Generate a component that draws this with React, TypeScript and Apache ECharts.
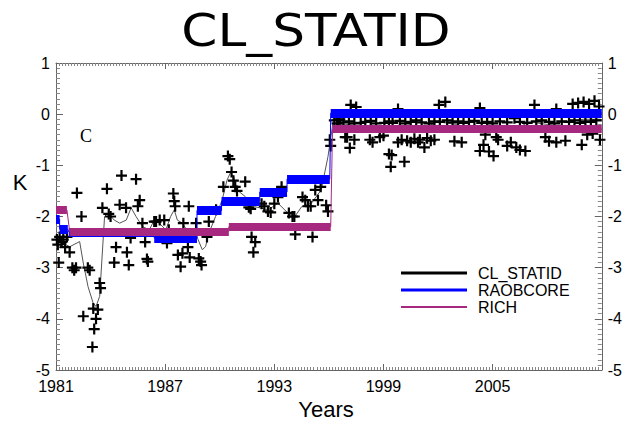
import React, { useEffect, useRef } from "react";
import * as echarts from "echarts";

const BASE_YEAR = 1981;
const X_TICK_LABELS = ["1981", "1987", "1993", "1999", "2005", ""];

// CL_STATID monthly anomalies (plus markers)
const CL_YEARS = [
  1981.05, 1981.1, 1981.15, 1981.2, 1981.3, 1981.4, 1981.5, 1981.6, 1981.75, 1981.9,
  1982.0, 1982.1, 1982.15, 1982.4, 1982.5, 1982.75, 1982.85, 1983.0, 1983.05, 1983.1,
  1983.2, 1983.3, 1983.4, 1983.45, 1983.55, 1983.8, 1983.9, 1984.0, 1984.2, 1984.3,
  1984.5, 1984.6, 1984.85, 1984.9, 1985.0, 1985.1, 1985.4, 1985.5, 1985.6, 1985.75,
  1985.9, 1986.0, 1986.05, 1986.4, 1986.5, 1986.7, 1986.95, 1987.1, 1987.2, 1987.45,
  1987.5, 1987.55, 1987.7, 1987.85, 1987.95, 1988.0, 1988.3, 1988.25, 1988.35, 1988.7,
  1988.85, 1988.95, 1989.0, 1989.3, 1989.4, 1989.8, 1990.2, 1990.45, 1990.55, 1990.65,
  1990.75, 1990.85, 1990.95, 1991.4, 1991.6, 1991.7, 1991.75, 1991.85, 1991.95, 1992.3,
  1992.45, 1992.65, 1992.8, 1993.0, 1993.2, 1993.4, 1993.8, 1994.0, 1994.1, 1994.15,
  1994.55, 1994.7, 1994.85, 1995.0, 1995.1, 1995.25, 1995.4, 1995.55, 1995.85, 1995.95,
  1996.05, 1996.1, 1996.3, 1996.45, 1996.6, 1996.9,
  1997.2, 1997.5, 2002.05, 2002.4, 2007.3, 2009.4, 2009.7, 2010.0, 2010.3, 2010.6, 2010.85, 1999.8, 2004.3, 2008.5,
  1996.5, 1996.8, 1997.1, 1997.4, 1997.75, 1998.0, 1998.3, 1998.6, 1999.05, 1999.3,
  1999.5, 1999.9, 2000.2, 2000.5, 2000.8, 2001.1, 2001.5, 2001.8, 2002.1, 2002.5,
  2002.8, 2003.1, 2003.4, 2003.7, 2004.0, 2004.4, 2004.7, 2005.0, 2005.4, 2005.8,
  2006.2, 2006.5, 2006.9, 2007.4, 2007.7, 2008.1, 2008.4, 2008.8, 2009.2, 2009.5,
  2009.8, 2010.1, 2010.4, 2010.7,
  1997.0, 1997.15, 1997.4, 1998.25, 1998.4, 1998.8, 1999.0, 1999.3, 1999.45, 1999.4,
  1999.8, 2000.0, 2000.15, 2000.3, 2000.5, 2000.7, 2000.9, 2001.0, 2001.25, 2001.4,
  2001.6, 2001.8, 2002.9, 2003.3, 2004.3, 2004.5, 2004.6, 2004.8, 2005.05, 2005.2,
  2005.3, 2005.8, 2006.0, 2006.3, 2006.5, 2006.8, 2007.9, 2008.1, 2008.5, 2009.0,
  2009.9, 2010.2, 2010.5, 2010.9,
];
const CL_VALUES = [
  -2.45, -2.55, -2.9, -2.4, -2.5, -2.45, -2.6, -2.4, -2.7, -3.0,
  -3.05, -3.0, -1.54, -2.0, -3.95, -3.0, -3.05, -4.55, -3.8, -4.2,
  -4.0, -3.82, -3.3, -3.4, -1.83, -1.46, -1.95, -2.0, -2.9, -2.6,
  -1.77, -1.2, -1.83, -2.7, -2.95, -2.42, -1.27, -1.8, -1.68, -2.13,
  -2.5, -2.83, -2.88, -2.1, -2.1, -2.07, -2.07, -2.52, -2.26, -1.55,
  -1.7, -1.8, -2.75, -2.98, -2.72, -2.13, -1.8, -2.6, -2.8, -2.13,
  -2.82, -2.88, -2.95, -2.4, -2.1, -1.87, -1.42, -0.82, -0.88, -1.13,
  -1.3, -1.42, -1.5, -1.32, -1.82, -1.85, -2.4, -2.7, -2.5, -1.75,
  -1.8, -1.9, -1.92, -1.75, -1.62, -1.42, -1.93, -2.0, -2.0, -2.35,
  -1.62, -1.68, -1.8, -1.8, -2.4, -1.48, -1.68, -1.42, -1.78, -1.9,
  -0.5, -0.62, -0.12, -0.18, -0.1, -0.45,
  0.18, 0.14, 0.18, 0.24, 0.18, 0.2, 0.22, 0.24, 0.2, 0.26, 0.15, 0.1, 0.12, 0.1,
  -0.11, -0.16, -0.14, -0.18, -0.17, -0.15, -0.13, -0.18, -0.17, -0.14,
  -0.17, -0.13, -0.18, -0.15, -0.12, -0.16, -0.18, -0.14, -0.15, -0.12,
  -0.16, -0.14, -0.17, -0.15, -0.13, -0.17, -0.15, -0.18, -0.14, -0.16,
  -0.08, -0.15, -0.17, -0.14, -0.12, -0.15, -0.18, -0.14, -0.15, -0.12,
  -0.17, -0.14, -0.15, -0.12,
  -0.45, -0.66, -0.5, -0.5, -0.55, -0.45, -0.42, -0.78, -0.8, -1.03,
  -0.55, -0.5, -0.93, -0.52, -0.55, -0.48, -0.55, -0.5, -0.65, -0.47,
  -0.52, -0.5, -0.53, -0.55, -0.72, -0.6, -0.4, -0.73, -0.82, -0.45,
  -0.5, -0.62, -0.55, -0.65, -0.7, -0.72, -0.45, -0.53, -0.55, -0.52,
  -0.6, -0.4, -0.38, -0.5,
];

// CL_STATID smoothed curve (thin grey line)
const SMOOTH_YEARS = [
  1981.04, 1981.76, 1982.3, 1982.5, 1982.76, 1983.04, 1983.2, 1983.4, 1983.58, 1983.67,
  1983.85, 1984.2, 1984.5, 1984.86, 1985.13, 1985.4, 1985.76, 1986.13, 1986.4, 1986.67,
  1987.04, 1987.3, 1987.5, 1987.67, 1987.95, 1988.3, 1988.67, 1989.04, 1989.22, 1989.4,
  1989.77, 1990.13, 1990.4, 1990.58, 1990.77, 1990.95, 1991.4, 1991.95, 1992.67, 1993.2,
  1993.77, 1994.13, 1994.5, 1995.04, 1995.58, 1995.95, 1996.22, 1997.0, 1998.0, 1999.0,
  2000.0, 2001.0, 2002.0, 2003.0, 2004.0, 2005.0, 2006.0, 2007.0, 2008.0, 2009.0,
  2010.0, 2010.95,
];
const SMOOTH_VALUES = [
  -2.46, -2.59, -2.49, -2.91, -3.37, -3.69, -3.76, -3.56, -2.52, -2.0,
  -1.93, -2.07, -2.13, -2.07, -1.83, -2.0, -2.2, -2.26, -2.07, -2.13,
  -2.26, -2.0, -1.87, -2.07, -2.13, -2.33, -2.33, -2.65, -2.59, -2.33,
  -2.0, -1.68, -1.29, -1.15, -1.22, -1.48, -1.61, -1.81, -1.87, -1.74,
  -1.94, -2.0, -1.81, -1.74, -1.48, -0.83, -0.18, -0.2, -0.25, -0.3,
  -0.35, -0.3, -0.15, -0.2, -0.3, -0.3, -0.35, -0.15, -0.2, -0.15,
  -0.1, -0.1,
];

// RAOBCORE step segments
const RAOB_START = [1981.0, 1981.2, 1981.7, 1986.4, 1988.75, 1990.1, 1992.2, 1993.7, 1996.1];
const RAOB_END = [1981.2, 1981.65, 1986.4, 1988.75, 1990.1, 1992.2, 1993.7, 1996.05, 2011.0];
const RAOB_VALUES = [-2.05, -2.25, -2.3, -2.42, -1.88, -1.7, -1.52, -1.27, 0.02];

// RICH step segments
const RICH_START = [1981.0, 1981.75, 1990.5, 1996.2];
const RICH_END = [1981.6, 1990.5, 1996.1, 2011.0];
const RICH_VALUES = [-1.87, -2.29, -2.2, -0.29];

const BLUE = "#0000ff";
const PURPLE = "#a6287f";
const PLUS = "path://M4,0L6,0L6,4L10,4L10,6L6,6L6,10L4,10L4,6L0,6L0,4L4,4Z";

const off = (y: number) => y - BASE_YEAR;

function segs(start: number[], end: number[], vals: number[]) {
  return start.map((s, i) => ({ coords: [[off(s), vals[i]], [off(end[i]), vals[i]]] }));
}
function connector(start: number[], end: number[], vals: number[]) {
  const out: number[][] = [];
  start.forEach((s, i) => {
    out.push([off(s), vals[i]]);
    out.push([off(end[i]), vals[i]]);
  });
  return out;
}

export default function App() {
  const ref = useRef<HTMLDivElement>(null);
  useEffect(() => {
    document.body.style.margin = "0";
    const chart = echarts.init(ref.current!, null, { renderer: "svg" });
    const font = "'Liberation Sans', Arial, Helvetica, sans-serif";
    const xCommon = {
      type: "value" as const,
      min: 0,
      max: 30,
      interval: 6,
      splitLine: { show: false },
      axisLine: { show: true, onZero: false, lineStyle: { color: "#666", width: 1 } },
      axisTick: { show: true, inside: true, length: 6, lineStyle: { color: "#666" } },
      minorTick: { show: true, splitNumber: 36, length: 3, lineStyle: { color: "#888" } },
    };
    const yCommon = {
      type: "value" as const,
      min: -5,
      max: 1,
      interval: 1,
      splitLine: { show: false },
      axisLine: { show: true, onZero: false, lineStyle: { color: "#666", width: 1 } },
      axisTick: { show: true, inside: true, length: 7, lineStyle: { color: "#666" } },
      minorTick: { show: true, splitNumber: 10, length: 4, lineStyle: { color: "#888" } },
      axisLabel: { color: "#000", fontSize: 16, fontFamily: font, margin: 6 },
    };
    chart.setOption({
      animation: false,
      backgroundColor: "#fff",
      grid: { left: 56, right: 22, top: 63, bottom: 52 },
      xAxis: [
        {
          ...xCommon,
          position: "bottom",
          axisLabel: {
            color: "#000",
            fontSize: 16,
            fontFamily: font,
            margin: 8,
            formatter: (v: number) => X_TICK_LABELS[Math.round(v / 6)] ?? "",
          },
        },
        { ...xCommon, position: "top", axisLabel: { show: false } },
      ],
      yAxis: [
        { ...yCommon, position: "left" },
        { ...yCommon, position: "right" },
      ],
      series: [
        {
          name: "CL_STATID smooth",
          type: "line",
          data: SMOOTH_YEARS.map((y, i) => [off(y), SMOOTH_VALUES[i]]),
          showSymbol: false,
          lineStyle: { color: "#555", width: 1 },
          z: 2,
        },
        {
          name: "CL_STATID",
          type: "scatter",
          data: CL_YEARS.map((y, i) => [off(y), CL_VALUES[i]]),
          symbol: PLUS,
          symbolSize: 11,
          itemStyle: { color: "#000", opacity: 1 },
          z: 3,
        },
        {
          name: "RAOBCORE link",
          type: "line",
          data: connector(RAOB_START, RAOB_END, RAOB_VALUES),
          showSymbol: false,
          lineStyle: { color: BLUE, width: 1 },
          z: 4,
        },
        {
          name: "RAOBCORE",
          type: "lines",
          coordinateSystem: "cartesian2d",
          data: segs(RAOB_START, RAOB_END, RAOB_VALUES),
          lineStyle: { color: BLUE, width: 9, opacity: 1, cap: "butt" },
          z: 5,
        },
        {
          name: "RICH link",
          type: "line",
          data: connector(RICH_START, RICH_END, RICH_VALUES),
          showSymbol: false,
          lineStyle: { color: PURPLE, width: 1 },
          z: 6,
        },
        {
          name: "RICH",
          type: "lines",
          coordinateSystem: "cartesian2d",
          data: segs(RICH_START, RICH_END, RICH_VALUES),
          lineStyle: { color: PURPLE, width: 8, opacity: 1, cap: "butt" },
          z: 7,
        },
      ],
      graphic: [
        {
          type: "text",
          x: 316,
          y: 30,
          scaleX: 1.15,
          style: {
            text: "CL_STATID",
            fontSize: 45,
            fontFamily: "'Comic Sans MS', 'DejaVu Sans', sans-serif",
            fill: "#000",
            align: "center",
            verticalAlign: "middle",
          },
        },
        {
          type: "text",
          x: 20,
          y: 182,
          style: { text: "K", fontSize: 22, fontFamily: font, fill: "#000", align: "center", verticalAlign: "middle" },
        },
        {
          type: "text",
          x: 326,
          y: 409,
          style: { text: "Years", fontSize: 22, fontFamily: font, fill: "#000", align: "center", verticalAlign: "middle" },
        },
        {
          type: "text",
          x: 86,
          y: 136,
          style: { text: "C", fontSize: 18, fontFamily: "'Liberation Serif', 'DejaVu Serif', serif", fill: "#000", align: "center", verticalAlign: "middle" },
        },
        { type: "line", shape: { x1: 401, y1: 273, x2: 467, y2: 273 }, style: { stroke: "#000", lineWidth: 3 } },
        { type: "line", shape: { x1: 401, y1: 290, x2: 467, y2: 290 }, style: { stroke: BLUE, lineWidth: 3 } },
        { type: "line", shape: { x1: 401, y1: 307, x2: 467, y2: 307 }, style: { stroke: PURPLE, lineWidth: 2 } },
        { type: "text", x: 478, y: 273, style: { text: "CL_STATID", fontSize: 16, fontFamily: font, fill: "#000", verticalAlign: "middle" } },
        { type: "text", x: 478, y: 290, style: { text: "RAOBCORE", fontSize: 16, fontFamily: font, fill: "#000", verticalAlign: "middle" } },
        { type: "text", x: 478, y: 307, style: { text: "RICH", fontSize: 16, fontFamily: font, fill: "#000", verticalAlign: "middle" } },
      ],
    });
    return () => chart.dispose();
  }, []);
  return <div ref={ref} style={{ width: 625, height: 422 }} />;
}
